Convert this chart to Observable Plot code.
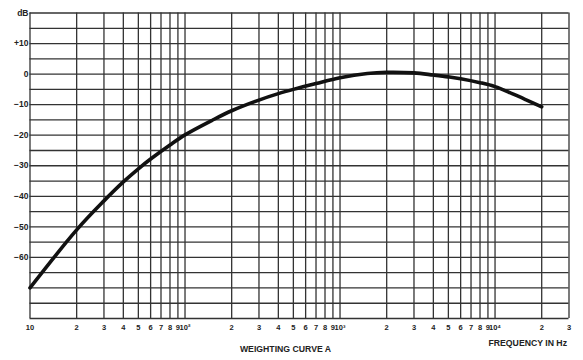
<!DOCTYPE html>
<html>
<head>
<meta charset="utf-8">
<script src="https://cdn.jsdelivr.net/npm/d3@7"></script>
<script src="https://cdn.jsdelivr.net/npm/@observablehq/plot@0.6"></script>
<style>
  html, body { margin: 0; padding: 0; background: #fff; }
</style>
</head>
<body>
<div id="chart"></div>
<script>
// Curve readings (frequency in Hz, level in dB)
const freqs = [10, 20, 30, 40, 50, 60, 80, 100, 150, 200, 300, 400, 500, 700, 1000, 1500, 2000, 3000, 4000, 5000, 6000, 8000, 10000, 13000, 16000, 20000];
const gains = [-70, -51, -41.5, -35.3, -31, -27.8, -23.2, -19.9, -15.1, -12, -8.5, -6.4, -5, -3.1, -1.2, 0.2, 0.6, 0.4, -0.3, -0.9, -1.5, -2.8, -4.1, -6.5, -8.5, -10.7];

// Grid / tick positions
const xTicks = [10,20,30,40,50,60,70,80,90,100,200,300,400,500,600,700,800,900,1000,2000,3000,4000,5000,6000,7000,8000,9000,10000,20000,30000];
const xTickLabels = ["10","2","3","4","5","6","7","8","9","10²","2","3","4","5","6","7","8","9","10³","2","3","4","5","6","7","8","9","10⁴","2","3"];
const yGrid = [-80,-75,-70,-65,-60,-55,-50,-45,-40,-35,-30,-25,-20,-15,-10,-5,0,5,10,15,20];
const yTicks = [20, 10, 0, -10, -20, -30, -40, -50, -60];
const yTickLabels = ["dB", "+10", "0", "\u221210", "\u221220", "\u221230", "\u221240", "\u221250", "\u221260"];

const captionLeft = {text: "WEIGHTING CURVE A", f: 445};
const captionRight = {text: "FREQUENCY IN Hz", f: 30000};

const curve = freqs.map((f, i) => ({f, g: gains[i]}));
const xLabels = xTicks.map((t, i) => ({t, label: xTickLabels[i]}));
const yLabels = yTicks.map((t, i) => ({t, label: yTickLabels[i]}));

const font = {fontWeight: "bold", fill: "#222"};

const chart = Plot.plot({
  width: 583,
  height: 360,
  marginLeft: 29.5,
  marginRight: 14.5,
  marginTop: 12.5,
  marginBottom: 42,
  style: {fontFamily: "'Liberation Sans', Arial, sans-serif", fontSize: "7.5px", fontWeight: "bold", background: "#fff", color: "#222"},
  x: {type: "log", domain: [10, 30000], axis: null},
  y: {domain: [-80, 20], axis: null},
  marks: [
    Plot.ruleY(yGrid, {stroke: "#333", strokeWidth: 1.3}),
    Plot.ruleX(xTicks, {stroke: "#333", strokeWidth: 1.3}),
    Plot.text(xLabels, {x: "t", text: "label", frameAnchor: "bottom", dy: 11, fontSize: 7.5, ...font}),
    Plot.text(yLabels, {y: "t", text: "label", frameAnchor: "left", textAnchor: "end", dx: -1.5, fontSize: 8.5, ...font}),
    Plot.line(curve, {x: "f", y: "g", curve: "catmull-rom", stroke: "#111", strokeWidth: 3.6}),
    Plot.text([captionLeft], {x: "f", text: "text", frameAnchor: "bottom", textAnchor: "middle", dy: 33, fontSize: 8.7, ...font}),
    Plot.text([captionRight], {x: "f", text: "text", frameAnchor: "bottom", textAnchor: "end", dx: -2, dy: 27, fontSize: 8.7, ...font})
  ]
});
document.getElementById("chart").appendChild(chart);
</script>
</body>
</html>
